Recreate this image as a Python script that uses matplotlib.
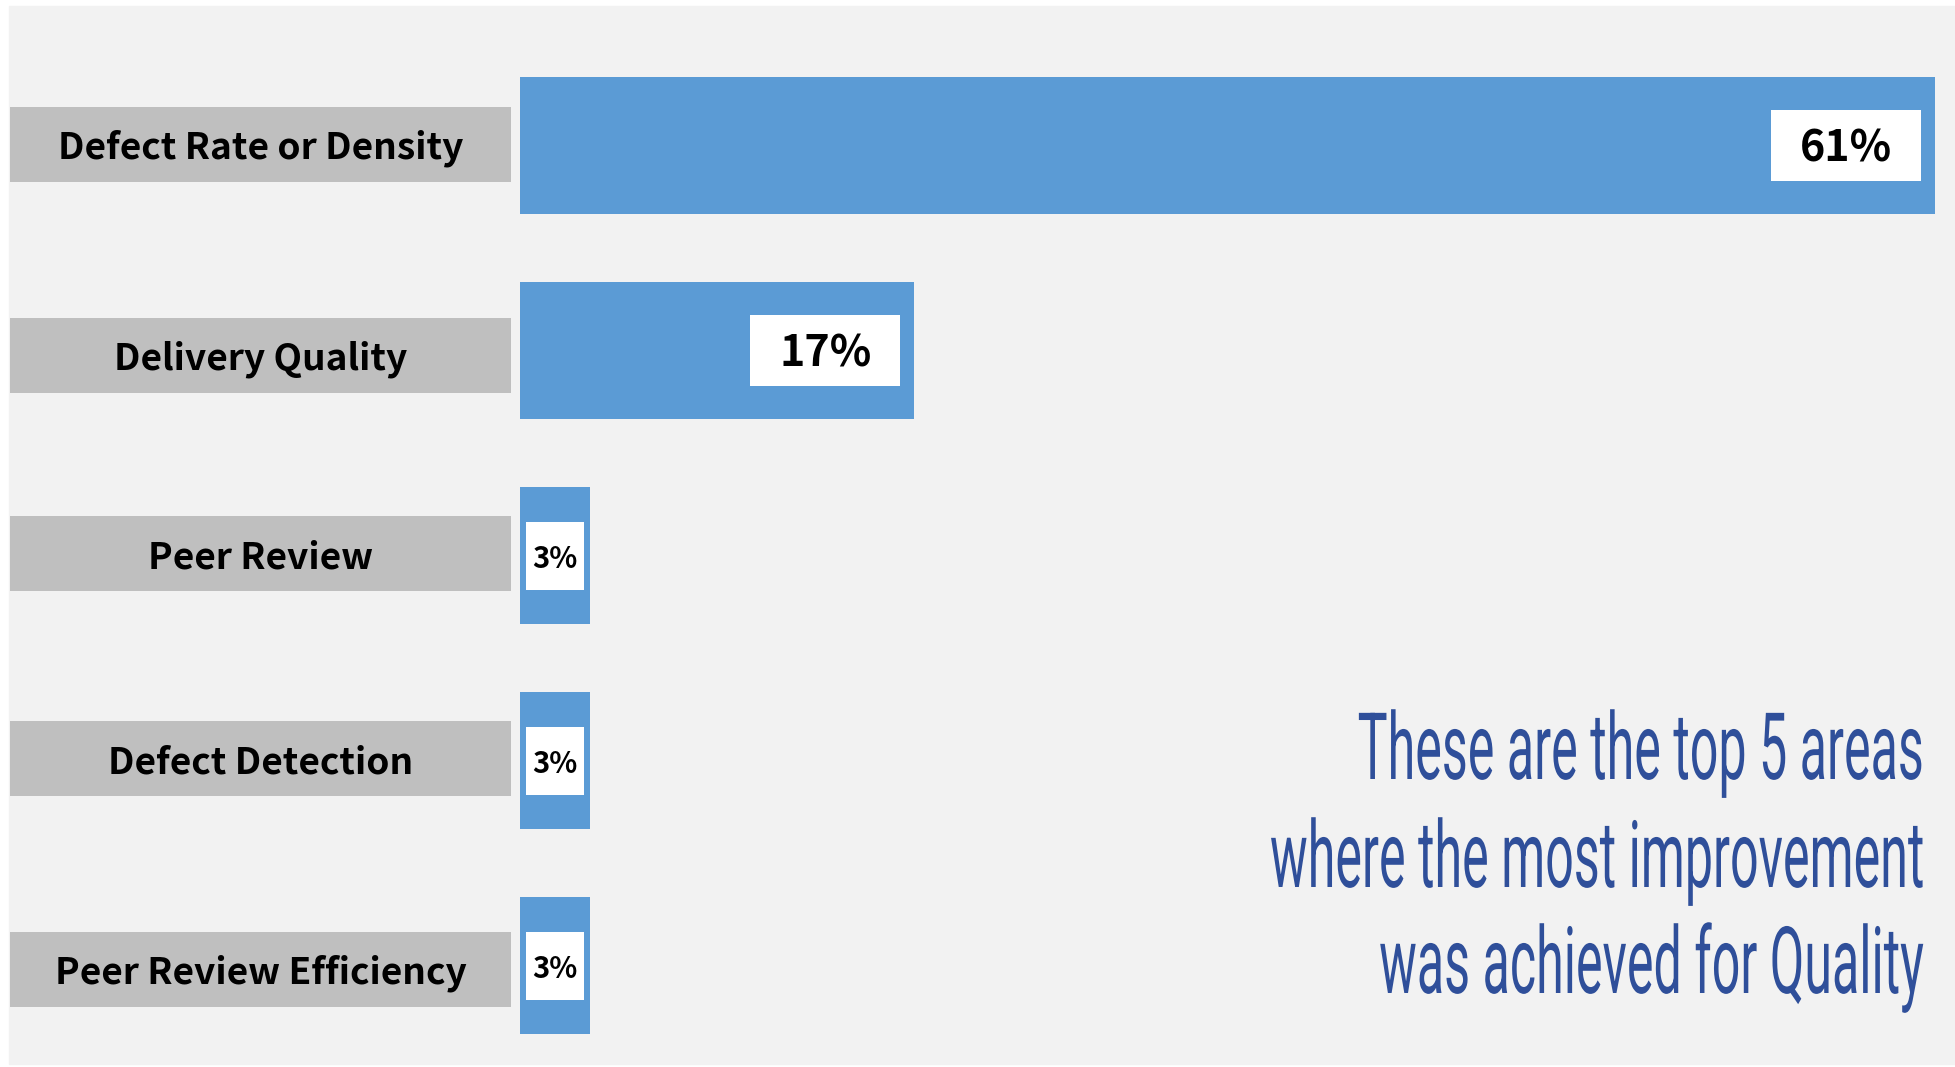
import numpy as np
import matplotlib.pyplot as plt
from matplotlib.patches import Rectangle
from matplotlib.patheffects import AbstractPathEffect
from matplotlib.transforms import Affine2D, offset_copy

categories = ["Defect Rate or Density", "Delivery Quality", "Peer Review",
              "Defect Detection", "Peer Review Efficiency"]
values = [61, 17, 3, 3, 3]
value_labels = ["61%", "17%", "3%", "3%", "3%"]
note_lines = ["These are the top 5 areas",
              "where the most improvement",
              "was achieved for Quality"]

W, H = 1955, 1067
BLUE = '#5b9bd5'
GREY = '#bfbfbf'
BG = '#f2f2f2'
NOTE = '#2f4f9a'
LABEL_FONT = ['Noto Sans CJK KR', 'DejaVu Sans']


def fx(px):
    return px / W


def fy(px):
    # px measured from the top of the picture
    return 1 - px / H


class Squeeze(AbstractPathEffect):
    """narrow the glyphs horizontally around x0 (display pixels)"""
    def __init__(self, sx, x0):
        super().__init__()
        self.sx, self.x0 = sx, x0

    def draw_path(self, renderer, gc, tpath, affine, rgbFace=None):
        t = affine + Affine2D().translate(-self.x0, 0).scale(self.sx, 1).translate(self.x0, 0)
        renderer.draw_path(gc, tpath, t, rgbFace)


fig = plt.figure(figsize=(W / 100, H / 100), dpi=100)
fig.patch.set_facecolor('white')
fig.add_artist(Rectangle((fx(9), fy(1064)), 1 - fx(9), fy(6) - fy(1064),
                         transform=fig.transFigure, color=BG, zorder=-10))

y = np.arange(len(categories))
row = 205.0
top = 145.5 - row / 2
bottom = top + row * len(categories)

# bars
ax = fig.add_axes([fx(520), fy(bottom), fx(1935) - fx(520), fy(top) - fy(bottom)])
ax.set_xlim(0, max(values))
ax.set_ylim(len(categories) - 0.5, -0.5)
ax.axis('off')
ax.barh(y, values, height=137 / row, color=BLUE)

down = offset_copy(ax.transData, fig, x=0, y=-3, units='dots')
ppu = 1415 / max(values)  # pixels per percent
for i, (v, lab) in enumerate(zip(values, value_labels)):
    if v >= 10:
        bw, bh, fs = 150 / ppu, 71 / row, 31
        right = v - 14 / ppu
    else:
        # small bars: white box sits in the middle of the bar
        bw, bh, fs = 58 / ppu, 68 / row, 21
        right = v / 2 + bw / 2
    ax.barh(i, bw, left=right - bw, height=bh, color='white')
    ax.text(right - bw / 2, i, lab, ha='center', va='center', fontsize=fs,
            fontweight='bold', family=LABEL_FONT, color='black', transform=down)

# category boxes on the left (slightly off the bar rows, as in the slide)
lax = fig.add_axes([fx(10), fy(bottom), fx(511) - fx(10), fy(top) - fy(bottom)])
lax.set_xlim(0, 1)
lax.set_ylim(len(categories) - 0.5, -0.5)
lax.axis('off')
shift = np.array([-1.5, 4.5, -2, -2, 3.5]) / row
lax.barh(y + shift, 1, height=75 / row, color=GREY)
ldown = offset_copy(lax.transData, fig, x=0, y=-4, units='dots')
for i, cat in enumerate(categories):
    lax.text(0.5, i + shift[i], cat, ha='center', va='center', fontsize=26.7,
             fontweight='bold', family=LABEL_FONT, color='black', transform=ldown)

# note text, condensed
note_x = 1924
baselines = [779, 887, 993]
notes = []
for line, b in zip(note_lines, baselines):
    t = fig.text(fx(note_x), fy(b), line, ha='right', va='baseline',
                 fontsize=67, family='Roboto', color=NOTE)
    notes.append(t)

r = fig.canvas.get_renderer()
widest = max(t.get_window_extent(r).width for t in notes)
sx = 654 / widest
for t in notes:
    t.set_path_effects([Squeeze(sx, note_x)])

fig.savefig('out.png', dpi=100, facecolor=fig.get_facecolor())
